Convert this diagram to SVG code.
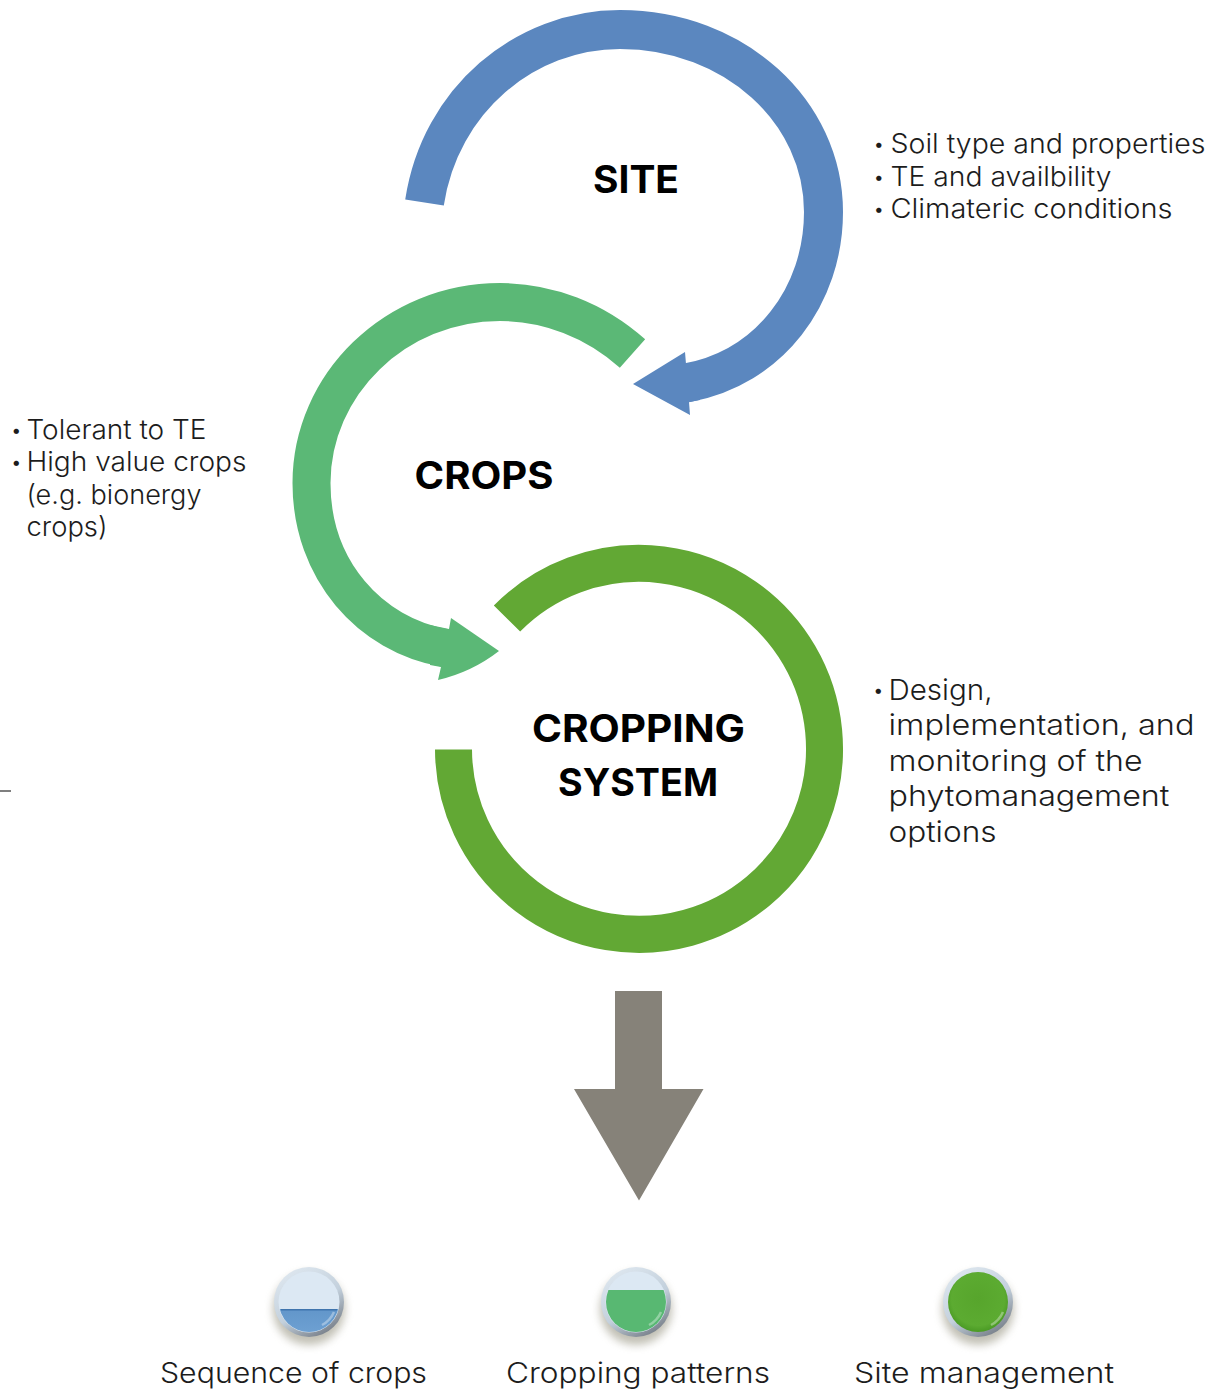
<svg xmlns="http://www.w3.org/2000/svg" width="1216" height="1400" viewBox="0 0 1216 1400">
<style>
text{font-family:"Inter","Open Sans","DejaVu Sans",sans-serif;fill:#1c1c1c}
.t{font-weight:700;font-size:38px;fill:#000}
.b{font-size:27px;font-weight:300}
.c{font-size:29px;font-weight:300}
.l{font-size:28px;font-weight:300}
.bu{font-size:17px;font-weight:400}
.arc{fill:none}
.gloss{fill:none;stroke:#fff;stroke-opacity:.35;stroke-width:2.500}
</style>
<defs>
<linearGradient id="rim" x1="0.2" y1="0" x2="0.8" y2="1"><stop offset="0" stop-color="#dfe8f0"/><stop offset="0.55" stop-color="#c3d0dc"/><stop offset="1" stop-color="#6f7680"/></linearGradient>
<radialGradient id="gr" cx="0.5" cy="0.45" r="0.55"><stop offset="0" stop-color="#57a52c"/><stop offset="0.8" stop-color="#5cab31"/><stop offset="1" stop-color="#4a9a24"/></radialGradient>
<linearGradient id="bl" x1="0" y1="0" x2="0" y2="1"><stop offset="0" stop-color="#4f86bd"/><stop offset="1" stop-color="#6da0d2"/></linearGradient>
<filter id="sh" x="-30%" y="-30%" width="160%" height="160%"><feGaussianBlur stdDeviation="4"/></filter>
<clipPath id="cb"><rect x="270" y="1309" width="80" height="40"/></clipPath>
<clipPath id="cg"><rect x="595" y="1290" width="80" height="60"/></clipPath>
</defs>
<rect width="1216" height="1400" fill="#fff"/>
<g id="connectors">
<path class="arc" stroke="#5b87bf" stroke-width="39" d="M424.500,202.500C440,100 525,29.500 620,29.500C735,29.500 823.500,112 823.500,212C823.500,295 770,368 686,383"/>
<path fill="#5b87bf" d="M633,384L685,352L686,364L700,362L700,400L689,402L690,415Z"/>
<path class="arc" stroke="#5bb876" stroke-width="38" d="M632.500,353.500C595,320 548,302 500,302C395,302 311.500,385 311.500,483C311.500,570 370,635 445,648"/>
<path fill="#5bb876" d="M499,651L451,618L449,629L430,625L430,665L441,667L438,680Q472,672 499,651Z"/>
<path class="arc" stroke="#62a834" stroke-width="37" d="M453.500,749.500A185.500,185.500 0 1 0 507,618.500"/>
<path id="down-arrow" fill="#868279" d="M615,991H662V1089H703.500L639,1200.500L574,1089H615Z"/>
<line x1="0" y1="791" x2="11" y2="791" stroke="#555" stroke-width="1.500"/>
</g>
<g id="site"><text class="t" x="636" y="193" text-anchor="middle" textLength="86" lengthAdjust="spacingAndGlyphs">SITE</text></g>
<g id="site-notes">
<text class="bu" x="874" y="150">•</text><text class="b" x="890.500" y="153" textLength="315" lengthAdjust="spacingAndGlyphs">Soil type and properties</text>
<text class="bu" x="874" y="183">•</text><text class="b" x="890.500" y="186" textLength="221" lengthAdjust="spacingAndGlyphs">TE and availbility</text>
<text class="bu" x="874" y="215">•</text><text class="b" x="890.500" y="218" textLength="282" lengthAdjust="spacingAndGlyphs">Climateric conditions</text>
</g>
<g id="crops"><text class="t" x="484" y="488.500" text-anchor="middle" textLength="139" lengthAdjust="spacingAndGlyphs">CROPS</text></g>
<g id="crops-notes">
<text class="bu" x="11.500" y="436">•</text><text class="b" x="26.500" y="439" textLength="180" lengthAdjust="spacingAndGlyphs">Tolerant to TE</text>
<text class="bu" x="11.500" y="468">•</text><text class="b" x="26.500" y="471" textLength="220" lengthAdjust="spacingAndGlyphs">High value crops</text>
<text class="b" x="26.500" y="504" textLength="175" lengthAdjust="spacingAndGlyphs">(e.g. bionergy</text>
<text class="b" x="26.500" y="536" textLength="81" lengthAdjust="spacingAndGlyphs">crops)</text>
</g>
<g id="cropping-system">
<text class="t" x="638.500" y="741.500" text-anchor="middle" textLength="213" lengthAdjust="spacingAndGlyphs">CROPPING</text>
<text class="t" x="638" y="795.500" text-anchor="middle" textLength="160" lengthAdjust="spacingAndGlyphs">SYSTEM</text>
</g>
<g id="cropping-notes">
<text class="bu" x="873.500" y="696">•</text><text class="c" x="888.500" y="700" textLength="104" lengthAdjust="spacingAndGlyphs">Design,</text>
<text class="c" x="888.500" y="735" textLength="306" lengthAdjust="spacingAndGlyphs">implementation, and</text>
<text class="c" x="888.500" y="771" textLength="254" lengthAdjust="spacingAndGlyphs">monitoring of the</text>
<text class="c" x="888.500" y="806" textLength="281" lengthAdjust="spacingAndGlyphs">phytomanagement</text>
<text class="c" x="888.500" y="842" textLength="108" lengthAdjust="spacingAndGlyphs">options</text>
</g>
<g id="sequence-of-crops">
<ellipse cx="309" cy="1309" rx="36" ry="36" fill="#8f8c78" opacity="0.55" filter="url(#sh)"/>
<circle cx="309" cy="1302" r="35" fill="url(#rim)"/>
<circle cx="309" cy="1302" r="30.500" fill="#dce8f3"/>
<circle cx="309" cy="1302" r="30" fill="url(#bl)" clip-path="url(#cb)"/>
<rect x="281" y="1309" width="56" height="1.500" fill="#3f74ad"/>
<path class="gloss" d="M334,1312A26,26 0 0 1 322,1325"/>
<text class="l" x="160" y="1383" textLength="267" lengthAdjust="spacingAndGlyphs">Sequence of crops</text>
</g>
<g id="cropping-patterns">
<ellipse cx="636" cy="1309" rx="36" ry="36" fill="#8f8c78" opacity="0.55" filter="url(#sh)"/>
<circle cx="636" cy="1302" r="35" fill="url(#rim)"/>
<circle cx="636" cy="1302" r="30.500" fill="#dce8f3"/>
<circle cx="636" cy="1302" r="30" fill="#58b872" clip-path="url(#cg)"/>
<path class="gloss" d="M661,1312A26,26 0 0 1 649,1325"/>
<text class="l" x="506" y="1383" textLength="264" lengthAdjust="spacingAndGlyphs">Cropping patterns</text>
</g>
<g id="site-management">
<ellipse cx="978" cy="1309" rx="36" ry="36" fill="#8f8c78" opacity="0.55" filter="url(#sh)"/>
<circle cx="978" cy="1302" r="35" fill="url(#rim)"/>
<circle cx="978" cy="1302" r="30" fill="url(#gr)"/>
<path class="gloss" d="M1003,1312A26,26 0 0 1 991,1325"/>
<text class="l" x="854" y="1383" textLength="260" lengthAdjust="spacingAndGlyphs">Site management</text>
</g>
</svg>
